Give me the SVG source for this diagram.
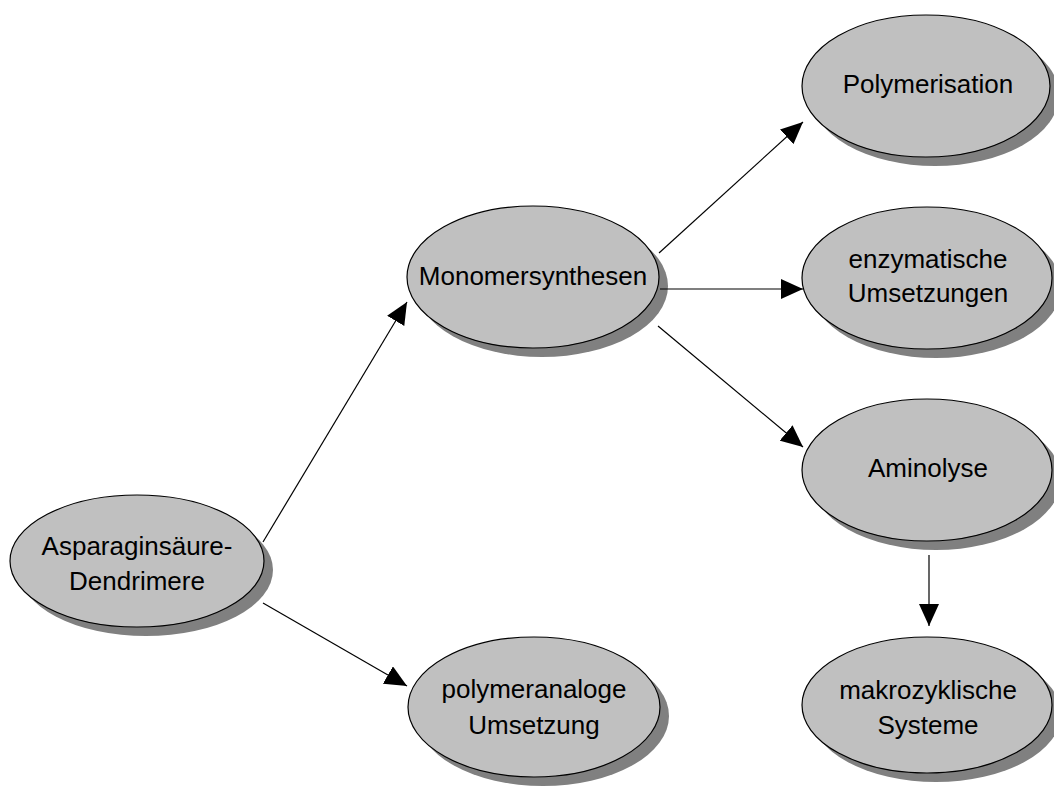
<svg xmlns="http://www.w3.org/2000/svg" width="1054" height="786" viewBox="0 0 1054 786">
<style>
.shadow{fill:#808080;stroke:none}
.node{fill:#c0c0c0;stroke:#000;stroke-width:1.2}
.label{font-family:"Liberation Sans",Arial,sans-serif;font-size:26px;fill:#000;text-anchor:middle}
.edge{stroke:#000;stroke-width:1.2;fill:none;marker-end:url(#arrow)}
</style>
<defs>
<marker id="arrow" markerWidth="22" markerHeight="20" refX="22" refY="10" orient="auto" markerUnits="userSpaceOnUse">
<path d="M0,0 L22,10 L0,20 Z" fill="#000"/>
</marker>
</defs>
<rect width="1054" height="786" fill="#fff"/>
<g id="n-asparaginsaeure">
<ellipse class="shadow" cx="146" cy="570" rx="127" ry="66"/>
<ellipse class="node" cx="137" cy="561" rx="127" ry="66"/>
<text class="label" x="137" y="555">Asparaginsäure-</text>
<text class="label" x="137" y="590">Dendrimere</text>
</g>
<g id="n-monomersynthesen">
<ellipse class="shadow" cx="542" cy="286" rx="126" ry="71"/>
<ellipse class="node" cx="533" cy="277" rx="126" ry="71"/>
<text class="label" x="533" y="285">Monomersynthesen</text>
</g>
<g id="n-polymeranaloge">
<ellipse class="shadow" cx="543" cy="716" rx="126" ry="70"/>
<ellipse class="node" cx="534" cy="707" rx="126" ry="70"/>
<text class="label" x="534" y="698">polymeranaloge</text>
<text class="label" x="534" y="734">Umsetzung</text>
</g>
<g id="n-polymerisation">
<ellipse class="shadow" cx="935" cy="95" rx="124" ry="71"/>
<ellipse class="node" cx="926" cy="86" rx="124" ry="71"/>
<text class="label" x="928" y="93">Polymerisation</text>
</g>
<g id="n-enzymatische">
<ellipse class="shadow" cx="936" cy="287" rx="125" ry="71"/>
<ellipse class="node" cx="927" cy="278" rx="125" ry="71"/>
<text class="label" x="928" y="268">enzymatische</text>
<text class="label" x="928" y="302">Umsetzungen</text>
</g>
<g id="n-aminolyse">
<ellipse class="shadow" cx="936" cy="479" rx="125" ry="71"/>
<ellipse class="node" cx="927" cy="470" rx="125" ry="71"/>
<text class="label" x="928" y="477">Aminolyse</text>
</g>
<g id="n-makrozyklische">
<ellipse class="shadow" cx="936" cy="714" rx="125" ry="68"/>
<ellipse class="node" cx="927" cy="705" rx="125" ry="68"/>
<text class="label" x="928" y="699">makrozyklische</text>
<text class="label" x="928" y="734">Systeme</text>
</g>
<g id="connectors">
<line class="edge" x1="263" y1="542" x2="407" y2="302"/>
<line class="edge" x1="263" y1="603" x2="407" y2="686"/>
<line class="edge" x1="659" y1="253" x2="803" y2="122"/>
<line class="edge" x1="660" y1="289" x2="803" y2="289"/>
<line class="edge" x1="658" y1="326" x2="803" y2="447"/>
<line class="edge" x1="929" y1="555" x2="929" y2="626"/>
</g>
</svg>
